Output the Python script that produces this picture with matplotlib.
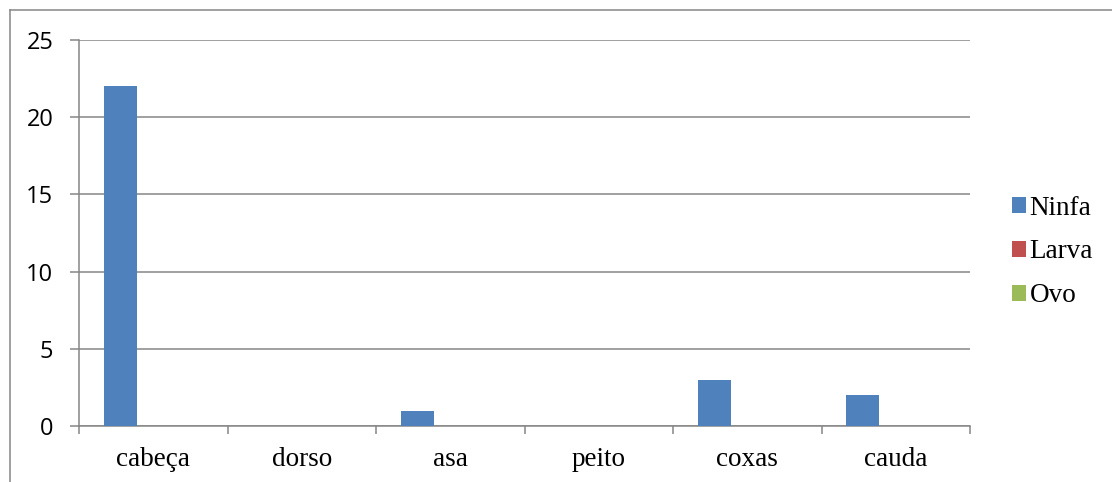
import numpy as np
import matplotlib.pyplot as plt
from matplotlib.lines import Line2D
from matplotlib.patches import Patch

categories = ["cabeça", "dorso", "asa", "peito", "coxas", "cauda"]
series_names = ["Ninfa", "Larva", "Ovo"]
ninfa = [22, 0, 1, 0, 3, 2]
larva = [0, 0, 0, 0, 0, 0]
ovo = [0, 0, 0, 0, 0, 0]
y_ticks = [0, 5, 10, 15, 20, 25]

colors = ["#4F81BD", "#C0504D", "#9BBB59"]
grid_color = "#868686"

fig = plt.figure(figsize=(11.12, 4.82), dpi=100)
ax = fig.add_axes([79 / 1112, 1 - 426 / 482, (970 - 79) / 1112, (426 - 40) / 482])

x = np.arange(len(categories))
width = 1 / 4.5
for k, (vals, c) in enumerate(zip([ninfa, larva, ovo], colors)):
    ax.bar(x + (k - 1) * width, vals, width, color=c, zorder=3)

ax.set_xlim(-0.5, len(categories) - 0.5)
ax.set_ylim(0, 25)
ax.set_yticks(y_ticks)
ax.set_yticklabels([str(v) for v in y_ticks], fontsize=17, family="Open Sans")
ax.yaxis.grid(True, color=grid_color, linewidth=1.1, zorder=0)
ax.tick_params(axis="y", length=6.5, width=1.1, color=grid_color, pad=12)

ax.set_xticks(x)
ax.set_xticklabels(categories, fontsize=19.5, family="Liberation Serif")
ax.set_xticks(np.arange(-0.5, len(categories)), minor=True)
ax.tick_params(axis="x", which="major", length=0, pad=15)
ax.tick_params(axis="x", which="minor", length=5.5, width=1.1, color=grid_color)

for side in ["top", "right"]:
    ax.spines[side].set_visible(False)
for side in ["left", "bottom"]:
    ax.spines[side].set_color(grid_color)
    ax.spines[side].set_linewidth(1.1)

handles = [Patch(facecolor=c, edgecolor="none") for c in colors]
fig.legend(handles, series_names, loc="center left",
           bbox_to_anchor=(1012 / 1112, 1 - 252 / 482), frameon=False,
           prop={"family": "Liberation Serif", "size": 19.5},
           handlelength=0.5, handleheight=0.5, handletextpad=0.15,
           labelspacing=0.7, borderpad=0, borderaxespad=0)

# chart area border (only left and top edges fall inside the image)
fig.add_artist(Line2D([10 / 1112, 10 / 1112], [0, 1 - 10 / 482],
                      transform=fig.transFigure, color=grid_color, linewidth=1.1))
fig.add_artist(Line2D([10 / 1112, 1], [1 - 10 / 482, 1 - 10 / 482],
                      transform=fig.transFigure, color=grid_color, linewidth=1.1))

fig.savefig("out.png", dpi=100)
